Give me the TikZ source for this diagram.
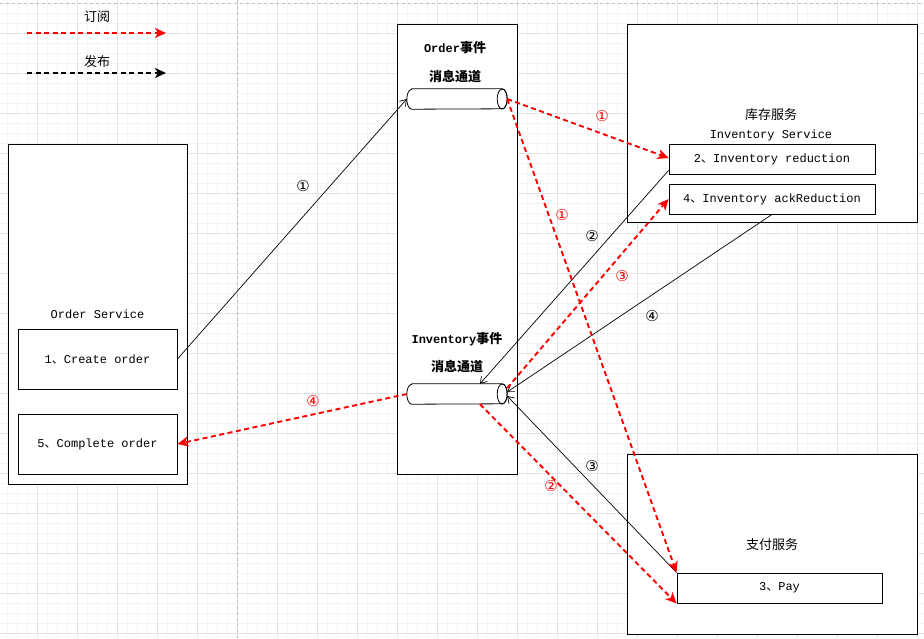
\documentclass[tikz,border=0pt]{standalone}
\usepackage{fontspec}
\setmonofont{Liberation Mono}
\newfontfamily\cjk{Noto Sans CJK SC}
\newfontfamily\symb{DejaVu Sans}
\usetikzlibrary{arrows.meta, positioning}
\definecolor{SubRed}{RGB}{255, 0, 0}
\definecolor{GridMinor}{RGB}{244, 244, 244}
\definecolor{GridMajor}{RGB}{226, 226, 226}
\definecolor{PageLine}{RGB}{190, 190, 190}
\newcommand{\dun}{{\cjk 、}}
% horizontal cylinder drawn round a named node
\newcommand{\pipe}[1]{%
  \draw[fill=white, line width=0.8pt] ([xshift=5pt]#1.north west) -- ([xshift=-5pt]#1.north east)
    arc[start angle=90, end angle=-90, x radius=5pt, y radius=10pt]
    -- ([xshift=5pt]#1.south west)
    arc[start angle=270, end angle=90, x radius=5pt, y radius=10pt] -- cycle;
  \draw[line width=0.8pt] ([xshift=-5pt]#1.east) ellipse [x radius=5pt, y radius=10pt];}

\begin{document}
\begin{tikzpicture}[
    x=1pt, y=-1pt,
    svc/.style={draw, fill=white, line width=0.9pt, inner sep=0pt},
    stepbox/.style={draw, fill=white, line width=0.9pt, inner sep=0pt,
      font=\ttfamily\fontsize{12}{14}\selectfont},
    channel/.style={inner sep=0pt, minimum width=100pt, minimum height=20pt},
    title/.style={inner sep=0pt, font=\ttfamily\fontsize{12}{14}\selectfont},
    cntitle/.style={inner sep=0pt, font=\cjk\fontsize{13}{15}\selectfont},
    num/.style={inner sep=0pt, font=\symb\fontsize{15}{17}\selectfont},
    sub/.style={SubRed, line width=1.9pt, dash pattern=on 5pt off 3.5pt,
      -{Stealth[length=11pt, width=10pt, inset=3pt]}},
    pub/.style={black, line width=0.7pt, -{Straight Barb[length=6pt, width=8pt]}}
  ]
    \useasboundingbox (0,0) rectangle (924,638);

    % Grid
    \foreach \gx in {7,17,...,917} \draw[GridMinor, line width=0.6pt] (\gx,0) -- (\gx,638);
    \foreach \gy in {3,13,...,633} \draw[GridMinor, line width=0.6pt] (0,\gy) -- (924,\gy);
    \foreach \gx in {37,77,...,917} \draw[GridMajor, line width=0.7pt] (\gx,0) -- (\gx,638);
    \foreach \gy in {33,73,...,633} \draw[GridMajor, line width=0.7pt] (0,\gy) -- (924,\gy);
    \draw[PageLine, dashed, line width=0.7pt] (237,0) -- (237,638);
    \draw[PageLine, dashed, line width=0.7pt] (0,3) -- (924,3);

    % Legend
    \node[cntitle] (lsub) at (97,17) {订阅};
    \coordinate (ls1) at (27,33);
    \coordinate (ls2) at (166,33);
    \draw[sub] (ls1) -- (ls2);
    \node[cntitle] (lpub) at (97,62) {发布};
    \coordinate (lp1) at (27,73);
    \coordinate (lp2) at (166,73);
    \draw[black, line width=1.9pt, dash pattern=on 5pt off 3.5pt,
      -{Stealth[length=11pt, width=10pt, inset=3pt]}] (lp1) -- (lp2);

    % Order service
    \node[svc, minimum width=179pt, minimum height=340pt] (osvc) at (97.5,314) {};
    \node[title] (otitle) at (97.5,314) {Order Service};
    \node[stepbox, minimum width=159pt, minimum height=60pt] (cr) at (97.5,359) {1\dun Create order};
    \node[stepbox, minimum width=159pt, minimum height=60pt] (co) at (97.5,444) {5\dun Complete order};

    % Channels
    \node[svc, minimum width=120pt, minimum height=450pt] (mid) at (457,249) {};
    \node[inner sep=0pt, font=\bfseries\ttfamily\fontsize{12}{14}\selectfont] (ot) at (455,48)
      {Order{\cjk\fontsize{13}{15}\selectfont 事件}};
    \node[cntitle, font=\cjk\bfseries\fontsize{13}{15}\selectfont] (ot2) at (455,77) {消息通道};
    \node[channel] (ch1) at (457,99) {};
    \pipe{ch1}
    \node[inner sep=0pt, font=\bfseries\ttfamily\fontsize{12}{14}\selectfont] (it) at (457,339)
      {Inventory{\cjk\fontsize{13}{15}\selectfont 事件}};
    \node[cntitle, font=\cjk\bfseries\fontsize{13}{15}\selectfont] (it2) at (457,367) {消息通道};
    \node[channel] (ch2) at (457,394) {};
    \pipe{ch2}

    % Inventory service
    \node[svc, minimum width=290pt, minimum height=198pt] (isvc) at (772,123) {};
    \node[cntitle] (ititle) at (771,115) {库存服务};
    \node[title] (ititle2) at (771,135) {Inventory Service};
    \node[stepbox, minimum width=206pt, minimum height=30pt] (inv2) at (772,159) {2\dun Inventory reduction};
    \node[stepbox, minimum width=206pt, minimum height=30pt] (inv4) at (772,199) {4\dun Inventory ackReduction};

    % Pay service
    \node[svc, minimum width=290pt, minimum height=180pt] (psvc) at (772,544) {};
    \node[cntitle] (ptitle) at (772,545) {支付服务};
    \node[stepbox, minimum width=205pt, minimum height=30pt] (pay) at (779.5,588) {3\dun Pay};

    % Publish
    \draw[pub] (cr.east) -- (ch1.west);
    \draw[pub] ([yshift=4pt]inv2.south west) -- ([xshift=23pt]ch2.north);
    \draw[pub] (inv4.south) -- ([yshift=2pt]ch2.east);
    \draw[pub] (pay.north west) -- ([yshift=-2pt]ch2.east);

    % Subscribe
    \draw[sub] (ch1.east) -- ([yshift=1pt]inv2.west);
    \draw[sub] (ch1.east) -- (pay.north west);
    \draw[sub] ([yshift=6pt]ch2.east) -- (inv4.west);
    \draw[sub] ([xshift=23pt]ch2.south) -- (pay.south west);
    \draw[sub] (ch2.west) -- (co.east);

    % Step numbers
    \node[num] (n1) at (303,186) {①};
    \node[num, SubRed] (n1a) at (602,116) {①};
    \node[num, SubRed] (n1b) at (562,215) {①};
    \node[num] (n2) at (592,236) {②};
    \node[num, SubRed] (n3a) at (622,276) {③};
    \node[num] (n4) at (652,316) {④};
    \node[num, SubRed] (n4a) at (313,401) {④};
    \node[num] (n3) at (592,466) {③};
    \node[num, SubRed] (n2a) at (551,486) {②};
  \end{tikzpicture}
\end{document}
